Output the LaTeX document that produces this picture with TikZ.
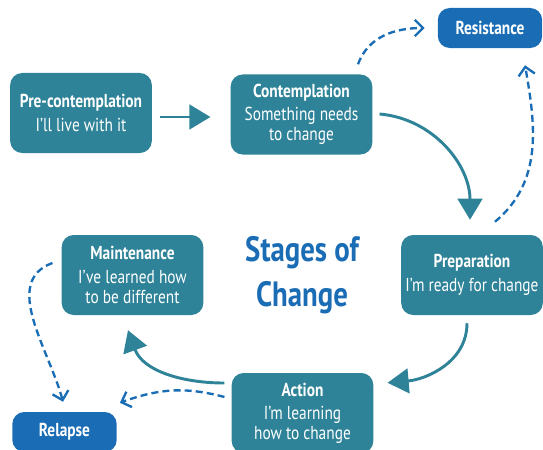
\documentclass[tikz,border=0pt]{standalone}
\usepackage{fontspec}
\setmainfont{PT Sans}[FakeStretch=0.82]
\usetikzlibrary{arrows.meta, calc}

\definecolor{stageteal}{HTML}{2E8398}
\definecolor{altblue}{HTML}{1A6DB5}

\begin{document}
\begin{tikzpicture}[x=0.03cm, y=0.03cm,
  stage/.style={fill=stageteal, text=white, rounded corners=0.36cm,
    minimum width=4.25cm, minimum height=2.4cm, align=center,
    font=\fontsize{16}{17}\selectfont},
  altstage/.style={fill=altblue, text=white, rounded corners=0.36cm,
    minimum width=3.13cm, minimum height=1.2cm,
    font=\fontsize{16}{17}\selectfont\bfseries},
  flow/.style={draw=stageteal, line width=2.5pt,
    -{Triangle[length=18pt, width=21pt]}},
  lapse/.style={draw=altblue, line width=2pt, dash pattern=on 6pt off 3.5pt,
    -{Straight Barb[length=7pt, width=14pt]}}]
  \useasboundingbox (0,0) rectangle (543,-449);

  % the five stages
  \node[stage] (pre)  at (81,-113)    {\textbf{Pre-contemplation}\\[3pt]I’ll live with it};
  \node[stage] (con)  at (301.5,-114.5) {\textbf{Contemplation}\\[3pt]Something needs\\to change};
  \node[stage] (prep) at (472,-275)   {\textbf{Preparation}\\[3pt]I’m ready for change};
  \node[stage] (act)  at (302.5,-413) {\textbf{Action}\\[3pt]I’m learning\\how to change};
  \node[stage] (main) at (132.5,-275) {\textbf{Maintenance}\\[3pt]I’ve learned how\\to be different};

  % side exits
  \node[altstage] (res) at (490,-28)  {Resistance};
  \node[altstage] (rel) at (64.5,-432) {Relapse};

  \node[text=altblue, align=center, font=\fontsize{30}{38}\selectfont\bfseries]
    (title) at (302,-275) {Stages of\\Change};

  % main cycle
  \draw[flow] ($(pre.east)+(8,-4)$) -- ($(con.west)+(-20,-2.5)$);
  \draw[flow] ($(con.east)+(7,0.5)$) to[out=-5, in=90] ($(prep.north)+(-2,15)$);
  \draw[flow] ($(prep.south)+(-5,-8)$) to[out=-90, in=5] ($(act.north east)+(14,-10)$);
  \draw[flow] ($(act.west)+(-7,30)$) to[out=180, in=-70] ($(main.south)+(-4.5,-15)$);

  % dashed exits
  \draw[lapse] ($(con.north)+(56.5,10)$) to[out=70, in=180] ($(res.west)+(-13,0)$);
  \draw[lapse] ($(prep.north)+(23,13)$) to[out=40, in=-80] ($(res.south)+(35,-17)$);
  \draw[lapse] ($(act.west)+(-7,16)$) to[out=165, in=20] ($(rel.north east)+(3,9)$);
  \draw[lapse] ($(main.west)+(-9,12)$) to[out=200, in=105] ($(rel.north)+(-1.5,10)$);
\end{tikzpicture}
\end{document}
